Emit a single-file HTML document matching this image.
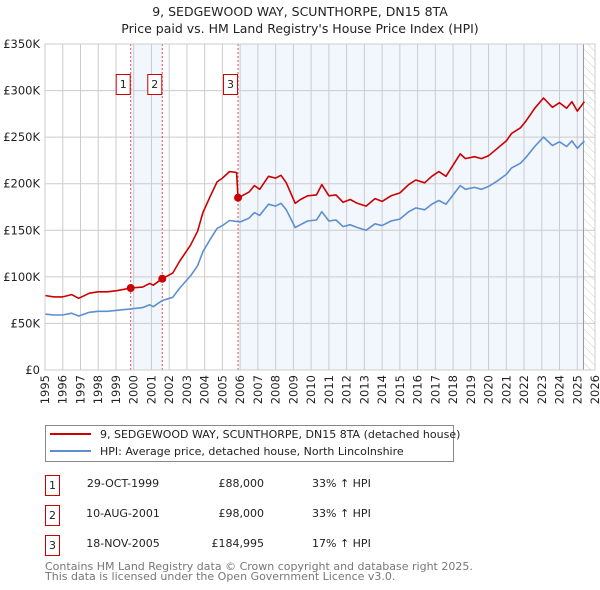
<!DOCTYPE html>
<html><head><meta charset="utf-8"><style>
body{margin:0;background:#fff;}
svg{display:block;font-family:"DejaVu Sans","Liberation Sans",sans-serif;}
</style></head><body>
<svg id="chart" width="600" height="590" viewBox="0 0 600 590">
<defs><pattern id="hatch" width="6" height="6" patternUnits="userSpaceOnUse" patternTransform="rotate(-45)"><line x1="0" y1="0" x2="0" y2="6" stroke="#ccc" stroke-width="1"/></pattern></defs>
<text x="300" y="16" text-anchor="middle" font-size="12.5" fill="#222">9, SEDGEWOOD WAY, SCUNTHORPE, DN15 8TA</text>
<text x="300" y="33" text-anchor="middle" font-size="12.5" fill="#222">Price paid vs. HM Land Registry's House Price Index (HPI)</text>
<g id="plot"></g>
<g>
<rect x="45.5" y="425.5" width="408" height="36" fill="#fff" stroke="#888"/>
<line x1="50" y1="434" x2="91" y2="434" stroke="#cc0000" stroke-width="2"/>
<text x="100" y="438" font-size="11" fill="#222">9, SEDGEWOOD WAY, SCUNTHORPE, DN15 8TA (detached house)</text>
<line x1="50" y1="451" x2="91" y2="451" stroke="#5b8fd0" stroke-width="2"/>
<text x="100" y="455" font-size="11" fill="#222">HPI: Average price, detached house, North Lincolnshire</text>
</g>
<g font-size="11" fill="#222">
<rect x="45.5" y="475.5" width="14" height="20" fill="none" stroke="#cc0000"/><text x="52.5" y="489" text-anchor="middle">1</text>
<text x="123" y="487" text-anchor="middle">29-OCT-1999</text><text x="264" y="487" text-anchor="end">£88,000</text><text x="312" y="487">33% ↑ HPI</text>
<rect x="45.5" y="505.5" width="14" height="20" fill="none" stroke="#cc0000"/><text x="52.5" y="519" text-anchor="middle">2</text>
<text x="123" y="517" text-anchor="middle">10-AUG-2001</text><text x="264" y="517" text-anchor="end">£98,000</text><text x="312" y="517">33% ↑ HPI</text>
<rect x="45.5" y="535.5" width="14" height="20" fill="none" stroke="#cc0000"/><text x="52.5" y="549" text-anchor="middle">3</text>
<text x="123" y="547" text-anchor="middle">18-NOV-2005</text><text x="264" y="547" text-anchor="end">£184,995</text><text x="312" y="547">17% ↑ HPI</text>
</g>
<text x="45" y="570" font-size="11" fill="#777">Contains HM Land Registry data © Crown copyright and database right 2025.</text>
<text x="45" y="580" font-size="11" fill="#777">This data is licensed under the Open Government Licence v3.0.</text>
</svg>
<script>
const hpiYears=[1995.0,1995.5,1996.0,1996.5,1996.9,1997.5,1998.0,1998.5,1999.0,1999.8,2000.5,2000.9,2001.1,2001.6,2002.2,2002.6,2003.2,2003.6,2003.9,2004.3,2004.7,2005.0,2005.4,2006.0,2006.5,2006.8,2007.1,2007.6,2008.0,2008.3,2008.6,2009.1,2009.4,2009.8,2010.3,2010.6,2011.0,2011.4,2011.8,2012.2,2012.6,2013.1,2013.6,2014.0,2014.5,2015.0,2015.5,2015.9,2016.4,2016.8,2017.2,2017.6,2018.0,2018.4,2018.7,2019.2,2019.6,2020.0,2020.5,2021.0,2021.3,2021.8,2022.1,2022.6,2023.1,2023.6,2024.0,2024.4,2024.7,2025.0,2025.4];
const hpiValues=[60,59,59,61,58,62,63,63,64,65.5,67,70,68,74.5,78,88,101,112,127,140,152,155,160.5,159,163,169,166,178,176,179,172,153,156,160,161,170,160,161,154,156,153,150,157,155,160,162,170,174,172,178,182,178,188,198,194,196,194,197,203,210,217,222,228,240,250,241,245,240,246,238,246];
const priceYears=[1995.0,1995.5,1996.0,1996.5,1996.9,1997.5,1998.0,1998.5,1999.0,1999.83,2000.5,2000.9,2001.1,2001.61,2002.2,2002.6,2003.2,2003.6,2003.9,2004.3,2004.7,2005.0,2005.4,2005.8,2005.88,2006.0,2006.5,2006.8,2007.1,2007.6,2008.0,2008.3,2008.6,2009.1,2009.4,2009.8,2010.3,2010.6,2011.0,2011.4,2011.8,2012.2,2012.6,2013.1,2013.6,2014.0,2014.5,2015.0,2015.5,2015.9,2016.4,2016.8,2017.2,2017.6,2018.0,2018.4,2018.7,2019.2,2019.6,2020.0,2020.5,2021.0,2021.3,2021.8,2022.1,2022.6,2023.1,2023.6,2024.0,2024.4,2024.7,2025.0,2025.4];
const priceValues=[80,78.5,78.5,81,77,82.5,84,84,85,88,89,93,91,98,104,117,134,149,169,186,202,206,213,212,185,186,191,198,194,208,206,209,201,179,183,187,188,199,187,188,180,183,179,176,184,181,187,190,199,204,201,208,213,208,220,232,227,229,227,230,238,246,254,260,267,281,292,282,287,281,288,278,288];
const saleYears=[1999.83,2001.61,2005.88];
const salePrices=[88,98,184.995];
const saleLabels=["1","2","3"];
const yTicks=[0,50,100,150,200,250,300,350];
const yTickLabels=["£0","£50K","£100K","£150K","£200K","£250K","£300K","£350K"];
const xTicks=[1995,1996,1997,1998,1999,2000,2001,2002,2003,2004,2005,2006,2007,2008,2009,2010,2011,2012,2013,2014,2015,2016,2017,2018,2019,2020,2021,2022,2023,2024,2025,2026];
const dataEnd=2025.35;

const X0=45,X1=595,Y0=370,Y1=44;
const xs=t=>X0+(t-1995)/(2026-1995)*(X1-X0);
const ys=v=>Y0-v/350*(Y0-Y1);
const NS="http://www.w3.org/2000/svg";
const g=document.getElementById('plot');
function mk(tag,attrs,parent){const e=document.createElementNS(NS,tag);for(const k in attrs)e.setAttribute(k,attrs[k]);(parent||g).appendChild(e);return e;}

let r=mk('rect',{x:X0,y:Y1,width:X1-X0,height:Y0-Y1,fill:'#fff'});


r=mk('rect',{x:xs(saleYears[0]),y:Y1,width:xs(saleYears[1])-xs(saleYears[0]),height:Y0-Y1,fill:'#eef3fc',opacity:0.75});


r=mk('rect',{x:xs(saleYears[2]),y:Y1,width:xs(dataEnd)-xs(saleYears[2]),height:Y0-Y1,fill:'#eef3fc',opacity:0.75});


r=mk('rect',{x:xs(dataEnd),y:Y1,width:X1-xs(dataEnd),height:Y0-Y1,fill:'url(#hatch)'});



xTicks.forEach(t=>{
  const l=mk('line',{x1:xs(t),x2:xs(t),y1:Y1,y2:Y0,stroke:'#ccc','stroke-width':1});
  
  
  const x=xs(t)+4;
  const tx=mk('text',{x:x,y:375,'text-anchor':'end','font-size':11.5,fill:'#222',transform:'rotate(-90 '+x+' 375)'});
  
  
  tx.textContent=t;
});
yTicks.forEach((v,i)=>{
  const l=mk('line',{x1:X0,x2:X1,y1:ys(v),y2:ys(v),stroke:'#ccc','stroke-width':1});
  
  
  const tx=mk('text',{x:40,y:ys(v)+4,'text-anchor':'end','font-size':11.5,fill:'#222'});
  
  
  tx.textContent=yTickLabels[i];
});
let el=mk('line',{x1:xs(dataEnd),x2:xs(dataEnd),y1:Y1,y2:Y0,stroke:'#999','stroke-width':1});



saleYears.forEach((t,i)=>{
  const l=mk('line',{x1:xs(t),x2:xs(t),y1:Y1,y2:Y0,stroke:'#e05050','stroke-width':1,'stroke-dasharray':'2,2'});
  
  
});

function poly(tx,vals,color,name){
  const p=mk('polyline',{points:tx.map((t,i)=>xs(t).toFixed(1)+','+ys(vals[i]).toFixed(1)).join(' '),fill:'none',stroke:color,'stroke-width':1.6,'stroke-linejoin':'round'});
  
  
}
poly(hpiYears,hpiValues,'#5b8fd0','hpi-line');
poly(priceYears,priceValues,'#cc0000','price-paid-line');

saleYears.forEach((t,i)=>{
  const c=mk('circle',{cx:xs(t),cy:ys(salePrices[i]),r:4,fill:'#cc0000'});
  
  
  const b=mk('rect',{x:xs(t)-14.5,y:74.5,width:14,height:20,fill:'#fff',stroke:'#cc0000'});
  
  
  const tx=mk('text',{x:xs(t)-7.5,y:88,'text-anchor':'middle','font-size':11,fill:'#222'});
  
  
  tx.textContent=saleLabels[i];
});
el=mk('rect',{x:X0,y:Y1,width:X1-X0,height:Y0-Y1,fill:'none',stroke:'#ccc'});


</script>
</body></html>
